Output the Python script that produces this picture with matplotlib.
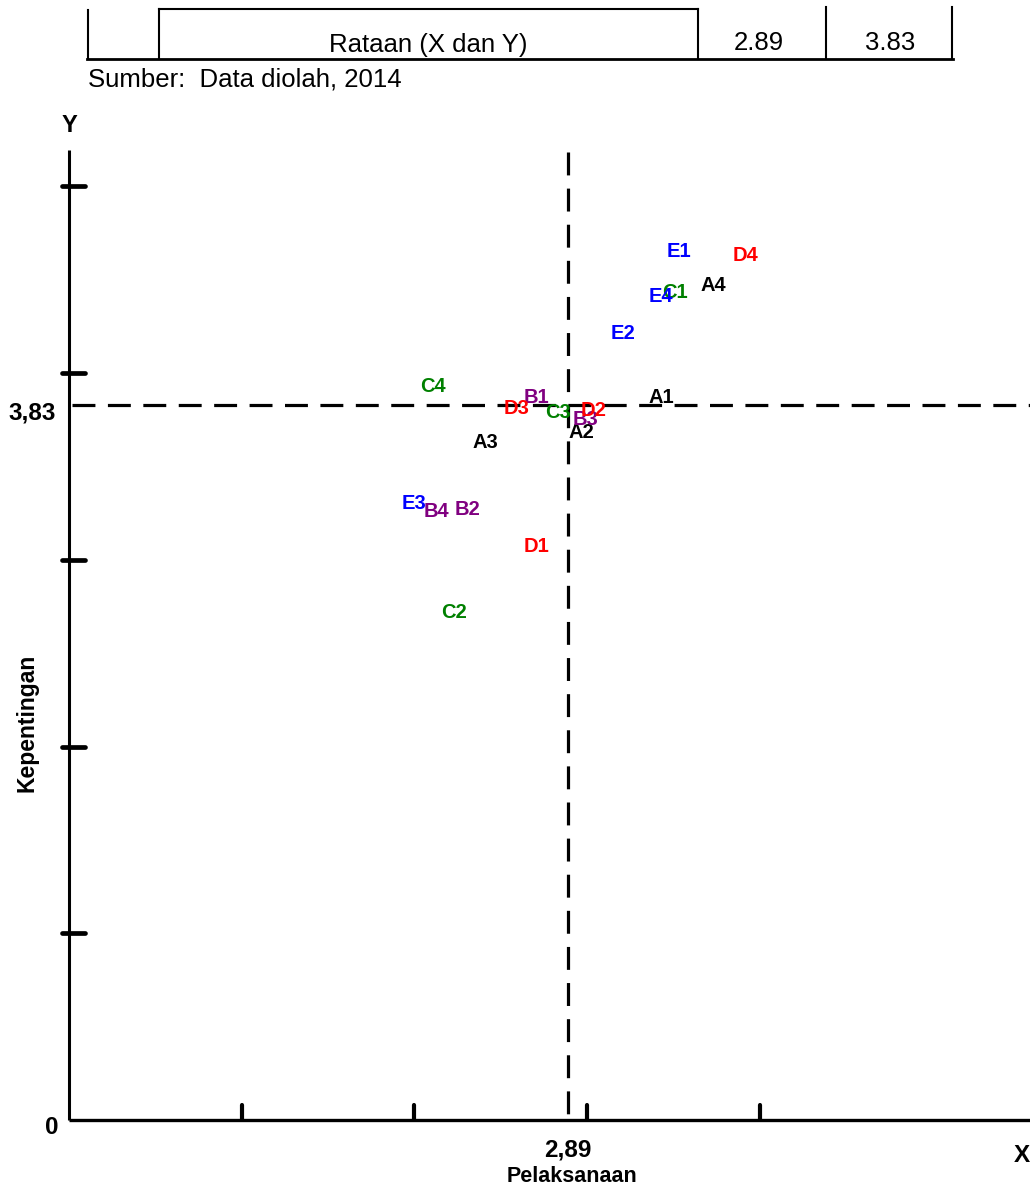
import matplotlib
matplotlib.use("Agg")
import matplotlib.pyplot as plt
from matplotlib.lines import Line2D

# ---------------- data ----------------
labels = ["A1", "A2", "A3", "A4",
          "B1", "B2", "B3", "B4",
          "C1", "C2", "C3", "C4",
          "D1", "D2", "D3", "D4",
          "E1", "E2", "E3", "E4"]
x_pelaksanaan = [3.43, 2.97, 2.41, 3.73,
                 2.71, 2.31, 2.99, 2.13,
                 3.51, 2.23, 2.83, 2.11,
                 2.71, 3.04, 2.59, 3.92,
                 3.53, 3.21, 2.00, 3.43]
y_kepentingan = [3.87, 3.68, 3.63, 4.47,
                 3.87, 3.27, 3.75, 3.26,
                 4.43, 2.72, 3.79, 3.93,
                 3.07, 3.80, 3.81, 4.63,
                 4.65, 4.21, 3.30, 4.41]
group_colors = {"A": "#000000", "B": "#800080", "C": "#008000",
                "D": "#FF0000", "E": "#0000FF"}
mean_x = 2.89
mean_y = 3.83
x_ticks = [1, 2, 3, 4]
y_ticks = [1, 2, 3, 4, 5]
table_row = ["Rataan (X dan Y)", "2.89", "3.83"]
source_note = "Sumber:  Data diolah, 2014"

# ---------------- figure ----------------
W, H = 1030, 1189
fig = plt.figure(figsize=(W / 100, H / 100), dpi=100)
ax = fig.add_axes([0, 0, 1, 1])
plt.rcParams['lines.scale_dashes'] = False

UX, UY = 172.66, 186.75      # pixels per data unit
OX, OY = 69, 1120            # pixel position of origin
ax.set_xlim(-OX / UX, (W - OX) / UX)
ax.set_ylim((OY - H) / UY, OY / UY)
ax.axis("off")

FAM = ["Liberation Sans", "DejaVu Sans"]


def fx(px):
    return px / W


def fy(py):
    return 1 - py / H


xmax = (W - OX) / UX
ytop = (OY - 150) / UY

# axes lines
ax.plot([0, 0], [0, ytop], color="black", lw=2.2, solid_capstyle="butt")
ax.plot([0, xmax], [0, 0], color="black", lw=2.4, solid_capstyle="butt")

# tick marks
for t in y_ticks:
    ax.plot([(62 - OX) / UX, (85 - OX) / UX], [t, t], color="black", lw=3.4,
            solid_capstyle="round")
for t in x_ticks:
    ax.plot([t, t], [(OY - 1105) / UY, (OY - 1120) / UY], color="black", lw=3.0,
            solid_capstyle="round")

# mean (dashed) lines
ax.plot([mean_x, mean_x], [(OY - 152) / UY, 0], color="black", lw=2.3,
        linestyle=(0, (16.5, 9.5)), solid_capstyle="butt")
ax.plot([(72 - OX) / UX, xmax], [mean_y, mean_y], color="black", lw=2.3,
        linestyle=(0, (16.5, 9.0)))

# point labels
for lab, xv, yv in zip(labels, x_pelaksanaan, y_kepentingan):
    ax.text(xv, yv, lab, color=group_colors[lab[0]], fontsize=14.5,
            fontweight="bold", family=FAM, ha="center", va="center")

# axis texts
fig.text(fx(69), fy(125), "Y", fontsize=17, fontweight="bold", family=FAM,
         ha="center", va="center")
fig.text(fx(1022), fy(1156), "X", fontsize=17.5, fontweight="bold", family=FAM,
         ha="center", va="center")
fig.text(fx(56), fy(413), "3,83", fontsize=17.5, fontweight="bold", family=FAM,
         ha="right", va="center")
fig.text(fx(52), fy(1128), "0", fontsize=17.5, fontweight="bold", family=FAM,
         ha="center", va="center")
fig.text(fx(568), fy(1150), "2,89", fontsize=17.5, fontweight="bold", family=FAM,
         ha="center", va="center")
fig.text(fx(572), fy(1177), "Pelaksanaan", fontsize=15.5, fontweight="bold",
         family=FAM, ha="center", va="center")
fig.text(fx(27), fy(723), "Kepentingan", fontsize=16.5, fontweight="bold",
         family=FAM, ha="center", va="center", rotation=90)

# table fragment at top
def fline(x0, y0, x1, y1, lw=1.5):
    fig.add_artist(Line2D([fx(x0), fx(x1)], [fy(y0), fy(y1)], color="black",
                          lw=lw, transform=fig.transFigure))

fline(88, 10, 88, 59)
fline(159, 9, 159, 59)
fline(159, 9, 698, 9)
fline(698, 9, 698, 59)
fline(826, 7, 826, 59)
fline(952, 7, 952, 59)
fline(87, 59, 953, 59, lw=2.0)

fig.text(fx(428), fy(45), table_row[0], fontsize=18.5, family=FAM,
         ha="center", va="center")
fig.text(fx(759), fy(43), table_row[1], fontsize=18.5, family=FAM,
         ha="center", va="center")
fig.text(fx(890), fy(43), table_row[2], fontsize=18.5, family=FAM,
         ha="center", va="center")
fig.text(fx(88), fy(80), source_note, fontsize=18.5, family=FAM,
         ha="left", va="center")

fig.savefig("out.png", dpi=100)
